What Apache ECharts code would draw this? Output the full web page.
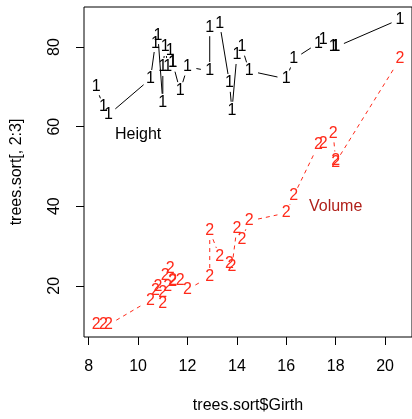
<!DOCTYPE html>
<html>
<head>
<meta charset="utf-8">
<script src="https://cdn.jsdelivr.net/npm/echarts@6/dist/echarts.min.js"></script>
<style>html,body{margin:0;padding:0;background:#fff}#c{width:412px;height:419px}</style>
</head>
<body>
<div id="c"></div>
<script>
var girth = [8.3,8.6,8.8,10.5,10.7,10.8,11.0,11.0,11.1,11.2,11.3,11.4,11.4,11.7,12.0,12.9,12.9,13.3,13.7,13.8,14.0,14.2,14.5,16.0,16.3,17.3,17.5,17.9,18.0,18.0,20.6];
var height = [70,65,63,72,81,83,66,75,80,75,79,76,76,69,75,74,85,86,71,64,78,80,74,72,77,81,82,80,80,80,87];
var volume = [10.3,10.3,10.2,16.4,18.8,19.7,15.6,18.2,22.6,19.9,24.2,21.0,21.4,21.3,19.1,22.2,33.8,27.4,25.7,24.9,34.5,31.7,36.3,38.3,42.6,55.4,55.7,58.3,51.5,51.0,77.0];
var xTicks = [8,10,12,14,16,18,20];
var yTicks = [20,40,60,80];
var seriesNames = ['Height','Volume'];
var seriesSymbols = ['1','2'];
var annotX = [10, 18];
var annotY = [58, 40];

var xMin = 7.808, xMax = 21.092, yMin = 7.128, yMax = 90.072;
var FONT = '"Liberation Sans", Arial, Helvetica, sans-serif';
var FS = 16;
var colors = ['#000000', '#ff2a1a'];
var annotColors = ['#000000', '#b0201a'];
var GAP = 9;

function segData(xs, ys) {
  var out = [];
  for (var i = 0; i < xs.length - 1; i++) out.push([xs[i], ys[i], xs[i+1], ys[i+1]]);
  return out;
}
function makeRender(color, dash) {
  return function (params, api) {
    var p1 = api.coord([api.value(0), api.value(1)]);
    var p2 = api.coord([api.value(2), api.value(3)]);
    var dx = p2[0] - p1[0], dy = p2[1] - p1[1];
    var d = Math.sqrt(dx*dx + dy*dy);
    if (d <= 2*GAP) return null;
    var ux = dx / d, uy = dy / d;
    return {
      type: 'line',
      shape: {x1: p1[0] + ux*GAP, y1: p1[1] + uy*GAP, x2: p2[0] - ux*GAP, y2: p2[1] - uy*GAP},
      style: {stroke: color, lineWidth: 1, lineDash: dash}
    };
  };
}
function labelSeries(xs, ys, text, color) {
  return {
    type: 'scatter',
    data: xs.map(function (x, i) { return [x, ys[i]]; }),
    symbolSize: 0,
    itemStyle: {color: color, opacity: 1},
    label: {show: true, position: 'inside', formatter: text, color: color, opacity: 1,
            textBorderWidth: 0, fontSize: FS, fontFamily: FONT},
    emphasis: {disabled: true},
    silent: true,
    z: 3
  };
}
var ys = [height, volume];
var series = [];
for (var k = 0; k < 2; k++) {
  series.push({
    type: 'custom',
    data: segData(girth, ys[k]),
    renderItem: makeRender(colors[k], k === 0 ? null : [4, 4]),
    clip: true,
    silent: true,
    z: 2
  });
  series.push(labelSeries(girth, ys[k], seriesSymbols[k], colors[k]));
  series.push(labelSeries([annotX[k]], [annotY[k]], seriesNames[k], annotColors[k]));
}

var chart = echarts.init(document.getElementById('c'), null, {renderer: 'canvas'});
chart.setOption({
  animation: false,
  backgroundColor: '#fff',
  grid: {left: 84, right: -4, top: 7, bottom: 81, show: true, borderColor: '#000', borderWidth: 1, backgroundColor: 'transparent'},
  xAxis: {
    type: 'value', min: xMin, max: xMax,
    name: 'trees.sort$Girth', nameLocation: 'middle', nameGap: 61,
    nameTextStyle: {color: '#000', fontSize: FS, fontFamily: FONT},
    axisLine: {show: false},
    splitLine: {show: false},
    axisTick: {show: true, inside: false, length: 8, lineStyle: {color: '#000'}, customValues: xTicks},
    axisLabel: {show: true, margin: 22, color: '#000', fontSize: FS, fontFamily: FONT, customValues: xTicks}
  },
  yAxis: {
    type: 'value', min: yMin, max: yMax,
    name: 'trees.sort[, 2:3]', nameLocation: 'middle', nameGap: 59,
    nameTextStyle: {color: '#000', fontSize: FS, fontFamily: FONT},
    axisLine: {show: false},
    splitLine: {show: false},
    axisTick: {show: true, inside: false, length: 8, lineStyle: {color: '#000'}, customValues: yTicks},
    axisLabel: {show: true, rotate: 90, margin: 21, color: '#000', fontSize: FS, fontFamily: FONT, customValues: yTicks}
  },
  series: series
});
</script>
</body>
</html>
